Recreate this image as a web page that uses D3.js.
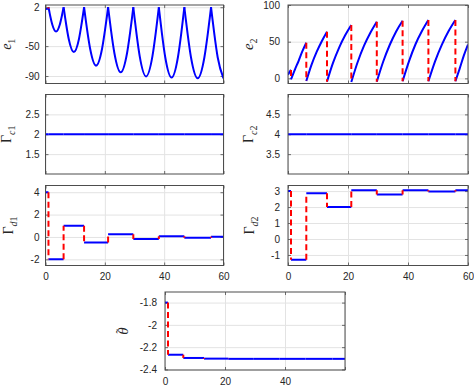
<!DOCTYPE html>
<html>
<head>
<meta charset="utf-8">
<script src="https://cdn.jsdelivr.net/npm/d3@7"></script>
<style>
body { margin: 0; background: #fff; }
svg { display: block; }
</style>
</head>
<body>
<script>
// switching instants (red dashed jumps)
var switchT = [1.0, 6.1, 13.0, 21.1, 29.6, 38.2, 46.8, 55.8];

// e1, one inner array per interval between switches
var e1T = [
    [0, 0.5, 1.0],
    [1.0, 1.26, 1.61, 2.28, 3.55, 4.83, 5.49, 5.85, 6.1],
    [6.1, 6.45, 6.93, 7.83, 9.55, 11.28, 12.17, 12.66, 13.0],
    [13.0, 13.41, 13.97, 15.03, 17.05, 19.08, 20.13, 20.7, 21.1],
    [21.1, 21.53, 22.12, 23.23, 25.35, 27.48, 28.58, 29.18, 29.6],
    [29.6, 30.03, 30.63, 31.75, 33.9, 36.05, 37.17, 37.77, 38.2],
    [38.2, 38.63, 39.23, 40.35, 42.5, 44.65, 45.77, 46.37, 46.8],
    [46.8, 47.25, 47.88, 49.05, 51.3, 53.55, 54.72, 55.35, 55.8],
    [55.8, 56.25, 56.88, 58.05, 60]
];
var e1V = [
    [-0.5, -0.2, 0.2],
    [2, -3.1, -10, -21, -30.5, -21, -10, -3.1, 2],
    [2, -7.4, -20.1, -40.4, -58, -40.4, -20.1, -7.4, 2],
    [2, -10.2, -26.7, -53.1, -76, -53.1, -26.7, -10.2, 2],
    [2, -11.6, -30, -59.5, -85, -59.5, -30, -11.6, 2],
    [2, -12.4, -32, -63.4, -90.5, -63.4, -32, -12.4, 2],
    [2, -12.7, -32.6, -64.5, -92, -64.5, -32.6, -12.7, 2],
    [2, -12.8, -33, -65.2, -93, -65.2, -33, -12.8, 2],
    [2, -12.8, -33, -65.2, -93.2]
];

// e2
var e2T = [
    [0, 0.5, 1.0],
    [1.0, 2.3, 3.55, 4.8, 6.1],
    [6.1, 7.8, 9.55, 11.3, 13.0],
    [13.0, 15.0, 17.05, 19.1, 21.1],
    [21.1, 23.2, 25.35, 27.5, 29.6],
    [29.6, 31.75, 33.9, 36.05, 38.2],
    [38.2, 40.35, 42.5, 44.65, 46.8],
    [46.8, 49.05, 51.3, 53.55, 55.8],
    [55.8, 57.2, 58.6, 60]
];
var e2V = [
    [5, 8.5, 11.5],
    [-1.5, 12, 24, 37, 48.5],
    [-3.7, 18, 36, 51, 63.6],
    [-4.5, 21, 42, 59, 72.7],
    [-5, 22, 44.5, 62.5, 77.2],
    [-4.5, 23, 45.5, 64, 78.6],
    [-4, 23.5, 46.5, 64.5, 79.5],
    [-4, 23.5, 46, 64.5, 79.5],
    [-4, 13, 31, 46]
];

// piecewise constant estimates, one value per interval
var gc1 = [2, 2, 2, 2, 2, 2, 2, 2, 2];
var gc2 = [4, 4, 4, 4, 4, 4, 4, 4, 4];
var gd1 = [4, -2, 1, -0.5, 0.25, -0.18, 0.07, -0.08, 0.03];
var gd2 = [3, -1.3, 2.87, 2.0, 3.06, 2.79, 3.06, 2.97, 3.05];
var theta = [-1.8, -2.268, -2.297, -2.303, -2.305, -2.305, -2.305, -2.305, -2.305];

var xTicks = [0, 20, 40, 60];
var xTicksLast = [0, 20, 40];
var e1Ticks = [-90, -50, 2];
var e2Ticks = [0, 50, 100];
var gc1Ticks = [1.5, 2, 2.5];
var gc2Ticks = [3.5, 4, 4.5];
var gd1Ticks = [-2, 0, 2, 4];
var gd2Ticks = [-1, 0, 1, 2, 3];
var thetaTicks = [-2.4, -2.2, -2, -1.8];

var width = 474, height = 388;
var svg = d3.select("body").append("svg")
    .attr("width", width)
    .attr("height", height);

var clipId = 0;

function makePanel(p) {
    var x = d3.scaleLinear().domain([0, 60]).range([p.l, p.r]);
    var y = d3.scaleLinear().domain(p.yDom).range([p.b, p.t]);
    var g = svg.append("g");

    // grid
    var gy = g.append("g")
        .attr("transform", "translate(" + p.l + ",0)")
        .call(d3.axisLeft(y).tickValues(p.yTicks).tickSize(-(p.r - p.l)).tickFormat(""));
    var gx = g.append("g")
        .attr("transform", "translate(0," + p.b + ")")
        .call(d3.axisBottom(x).tickValues(p.xTicks).tickSize(-(p.b - p.t)).tickFormat(""));
    [gy, gx].forEach(function (a) {
        a.select(".domain").remove();
        a.selectAll("line").attr("stroke", "#e3e3e3").attr("stroke-width", 1);
    });

    // tick marks, inward, on all four sides
    var tl = g.append("g").attr("transform", "translate(" + p.l + ",0)")
        .call(d3.axisLeft(y).tickValues(p.yTicks).tickSize(-3).tickFormat(""));
    var tr = g.append("g").attr("transform", "translate(" + p.r + ",0)")
        .call(d3.axisRight(y).tickValues(p.yTicks).tickSize(-3).tickFormat(""));
    var tb = g.append("g").attr("transform", "translate(0," + p.b + ")")
        .call(d3.axisBottom(x).tickValues(p.xTicks).tickSize(-3).tickFormat(""));
    var tt = g.append("g").attr("transform", "translate(0," + p.t + ")")
        .call(d3.axisTop(x).tickValues(p.xTicks).tickSize(-3).tickFormat(""));
    [tl, tr, tb, tt].forEach(function (a) {
        a.select(".domain").remove();
        a.selectAll("line").attr("stroke", "#4d4d4d").attr("stroke-width", 0.8);
    });

    // tick labels
    var ly = g.append("g").attr("transform", "translate(" + p.l + ",0)")
        .call(d3.axisLeft(y).tickValues(p.yTicks).tickSize(0).tickPadding(p.gap)
            .tickFormat(function (d) { return String(d); }));
    ly.select(".domain").remove();
    ly.selectAll("text").style("font-family", "'Liberation Sans', Arial, sans-serif")
        .style("font-size", "10px").attr("fill", "#262626");
    if (p.xLabels) {
        var lx = g.append("g").attr("transform", "translate(0," + p.b + ")")
            .call(d3.axisBottom(x).tickValues(p.xLabels).tickSize(0).tickPadding(7.5)
                .tickFormat(function (d) { return String(d); }));
        lx.select(".domain").remove();
        lx.selectAll("text").style("font-family", "'Liberation Sans', Arial, sans-serif")
            .style("font-size", "10px").attr("fill", "#262626");
    }

    // clip
    clipId++;
    svg.append("clipPath").attr("id", "clip" + clipId)
        .append("rect").attr("x", p.l).attr("y", p.t)
        .attr("width", p.r - p.l).attr("height", p.b - p.t);
    var plot = g.append("g").attr("clip-path", "url(#clip" + clipId + ")");

    // y label
    var lab = g.append("text")
        .attr("transform", "translate(" + p.labX + "," + ((p.t + p.b) / 2) + ") rotate(-90)")
        .attr("text-anchor", "middle")
        .attr("fill", "#262626")
        .style("font-family", "'Liberation Serif', 'DejaVu Serif', serif");
    p.label.forEach(function (part) {
        var ts = lab.append("tspan").text(part[0])
            .style("font-style", part[1])
            .style("font-size", part[2] + "px")
            .attr("dy", part[3] || 0);
        if (part[4]) ts.attr("dx", part[4]);
    });

    return { x: x, y: y, plot: plot, g: g, p: p };
}

function finishBox(P) {
    var p = P.p;
    P.g.append("rect")
        .attr("x", p.l).attr("y", p.t)
        .attr("width", p.r - p.l).attr("height", p.b - p.t)
        .attr("fill", "none").attr("stroke", "#4d4d4d").attr("stroke-width", 1);
}

function drawSegments(P, T, V) {
    var line = d3.line()
        .x(function (d) { return P.x(d[0]); })
        .y(function (d) { return P.y(d[1]); })
        .curve(d3.curveMonotoneX);
    T.forEach(function (ts, i) {
        var pts = ts.map(function (t, k) { return [t, V[i][k]]; });
        P.plot.append("path").attr("d", line(pts))
            .attr("fill", "none").attr("stroke", "#0000ff").attr("stroke-width", 2);
    });
    // jumps
    for (var i = 0; i < switchT.length; i++) {
        var a = V[i][V[i].length - 1], b = V[i + 1][0];
        if (Math.abs(a - b) < 1e-9) continue;
        P.plot.append("line")
            .attr("x1", P.x(switchT[i])).attr("x2", P.x(switchT[i]))
            .attr("y1", P.y(a)).attr("y2", P.y(b))
            .attr("stroke", "#ff0000").attr("stroke-width", 2)
            .attr("stroke-dasharray", "6,3.5");
    }
}

function drawSteps(P, levels) {
    var edges = [0].concat(switchT).concat([60]);
    var line = d3.line()
        .x(function (d) { return P.x(d[0]); })
        .y(function (d) { return P.y(d[1]); });
    levels.forEach(function (v, i) {
        P.plot.append("path").attr("d", line([[edges[i], v], [edges[i + 1], v]]))
            .attr("fill", "none").attr("stroke", "#0000ff").attr("stroke-width", 2);
    });
    for (var i = 0; i < switchT.length; i++) {
        if (Math.abs(levels[i] - levels[i + 1]) < 1e-9) continue;
        P.plot.append("line")
            .attr("x1", P.x(switchT[i])).attr("x2", P.x(switchT[i]))
            .attr("y1", P.y(levels[i])).attr("y2", P.y(levels[i + 1]))
            .attr("stroke", "#ff0000").attr("stroke-width", 2)
            .attr("stroke-dasharray", "6,3.5");
    }
}

var rows = [[5, 83.5], [94.5, 174], [185.5, 265.5], [292, 370]];
var colL = [45.5, 223.5], colR = [288, 468], colC = [165, 345];

var p1 = makePanel({ l: colL[0], r: colL[1], t: rows[0][0], b: rows[0][1], yDom: [-100, 5],
    yTicks: e1Ticks, xTicks: xTicks, gap: 6, labX: 10.5,
    label: [["e", "italic", 14], ["1", "normal", 10, 4]] });
drawSegments(p1, e1T, e1V);
finishBox(p1);

var p2 = makePanel({ l: colR[0], r: colR[1], t: rows[0][0], b: rows[0][1], yDom: [-7, 100],
    yTicks: e2Ticks, xTicks: xTicks, gap: 8, labX: 253,
    label: [["e", "italic", 15], ["2", "normal", 10, 4]] });
drawSegments(p2, e2T, e2V);
finishBox(p2);

var p3 = makePanel({ l: colL[0], r: colL[1], t: rows[1][0], b: rows[1][1], yDom: [1, 3],
    yTicks: gc1Ticks, xTicks: xTicks, gap: 6, labX: 10.5,
    label: [["Γ", "normal", 14], ["c", "italic", 10, 4], ["1", "normal", 10]] });
drawSteps(p3, gc1);
finishBox(p3);

var p4 = makePanel({ l: colR[0], r: colR[1], t: rows[1][0], b: rows[1][1], yDom: [3, 5],
    yTicks: gc2Ticks, xTicks: xTicks, gap: 8, labX: 253,
    label: [["Γ", "normal", 14], ["c", "italic", 10, 4], ["2", "normal", 10]] });
drawSteps(p4, gc2);
finishBox(p4);

var p5 = makePanel({ l: colL[0], r: colL[1], t: rows[2][0], b: rows[2][1], yDom: [-2.55, 4.6],
    yTicks: gd1Ticks, xTicks: xTicks, xLabels: xTicks, gap: 6, labX: 13,
    label: [["Γ", "normal", 14], ["d", "italic", 10, 4], ["1", "normal", 10]] });
drawSteps(p5, gd1);
finishBox(p5);

var p6 = makePanel({ l: colR[0], r: colR[1], t: rows[2][0], b: rows[2][1], yDom: [-1.66, 3.35],
    yTicks: gd2Ticks, xTicks: xTicks, xLabels: xTicks, gap: 8, labX: 254,
    label: [["Γ", "normal", 14], ["d", "italic", 10, 4], ["2", "normal", 10]] });
drawSteps(p6, gd2);
finishBox(p6);

// theta with a tilde placed over it
var p7 = makePanel({ l: colC[0], r: colC[1], t: rows[3][0], b: rows[3][1], yDom: [-2.405, -1.705],
    yTicks: thetaTicks, xTicks: xTicks, xLabels: xTicksLast, gap: 8, labX: 128,
    label: [["θ", "italic", 15], ["\u02DC", "normal", 13, -3.5, -6]] });
drawSteps(p7, theta);
finishBox(p7);
</script>
</body>
</html>
